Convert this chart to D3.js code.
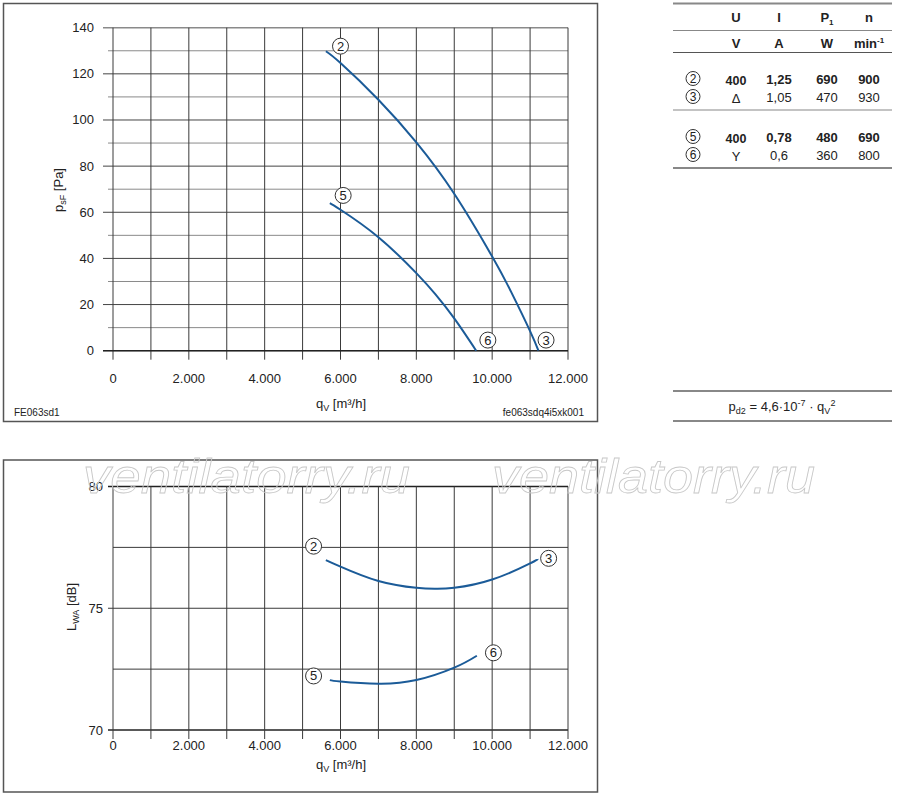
<!DOCTYPE html>
<html>
<head>
<meta charset="utf-8">
<script src="https://cdn.jsdelivr.net/npm/d3@7"></script>
<style>
  body { margin: 0; background: #fff; }
  svg { display: block; font-family: Arial, "Liberation Sans", sans-serif; }
</style>
</head>
<body>
<svg id="chart" width="900" height="797"></svg>
<script>
// Pressure curves (q_V in m³/h, p_sF in Pa)
const pressure23 = [[5614, 129.8], [6000, 124.7], [7000, 108.8], [8000, 90.3], [9000, 68.0], [10000, 40.8], [10500, 25.5], [11000, 8.5], [11220, 0]];
const pressure56 = [[5719, 64.0], [6000, 61.1], [7000, 49.2], [8000, 33.6], [8500, 24.5], [9000, 14.0], [9579, 0]];
const pressureLabels = [["2", 6000, 132], ["5", 6070, 67.3], ["6", 9886, 4.6], ["3", 11421, 4.6]];

// Sound power curves (L_WA in dB)
const sound23 = [[5614, 76.98], [6000, 76.71], [7000, 76.12], [8000, 75.84], [8500, 75.8], [9000, 75.84], [10000, 76.18], [11000, 76.84], [11200, 77.02]];
const sound56 = [[5719, 72.05], [6000, 71.99], [7000, 71.9], [8000, 72.05], [9000, 72.56], [9596, 73.05]];
const soundLabels = [["2", 5290, 77.55], ["3", 11489, 77.05], ["5", 5290, 72.22], ["6", 10034, 73.17]];

// Table
const tableHeads = ["U", "I", "P", "n"];
const tableUnits = ["V", "A", "W", "min"];
const tableRows = [
  { id: "2", vals: ["400", "1,25", "690", "900"], bold: true },
  { id: "3", vals: ["\u0394", "1,05", "470", "930"], bold: false },
  { id: "5", vals: ["400", "0,78", "480", "690"], bold: true },
  { id: "6", vals: ["Y", "0,6", "360", "800"], bold: false }
];

const xTicks = d3.range(0, 12001, 2000);
const xGrid = d3.range(0, 12001, 1000);
const pTicks = d3.range(0, 141, 20);
const pGrid = d3.range(0, 141, 10);
const lTicks = [70, 75, 80];
const lGrid = [70, 72.5, 75, 77.5, 80];

const blue = "#1b5b98";
const grid = "#3a3a3a";
const svg = d3.select("#chart");

const de = d3.formatLocale({ decimal: ",", thousands: ".", grouping: [3], currency: ["", ""] });
const fmt = de.format(",");

// frames
svg.append("rect").attr("x", 3.5).attr("y", 3.5).attr("width", 594).attr("height", 418)
  .attr("fill", "none").attr("stroke", "#555").attr("stroke-width", 1.5);
svg.append("rect").attr("x", 3.5).attr("y", 460).attr("width", 594).attr("height", 332)
  .attr("fill", "none").attr("stroke", "#555").attr("stroke-width", 1.5);

const xScale = d3.scaleLinear([0, 12000], [113, 568]);
const pScale = d3.scaleLinear([0, 140], [350.7, 27.7]);
const lScale = d3.scaleLinear([70, 80], [730, 486.5]);

const line = (y) => d3.line().curve(d3.curveNatural).x((d) => xScale(d[0])).y((d) => y(d[1]));

function circled(g, labels, y) {
  const c = g.selectAll(".lab").data(labels).join("g")
    .attr("transform", (d) => `translate(${xScale(d[1])},${y(d[2])})`);
  c.append("circle").attr("r", 8).attr("fill", "#fff").attr("stroke", "#333").attr("stroke-width", 1);
  c.append("text").attr("text-anchor", "middle").attr("y", 4.5).attr("font-size", 13).attr("fill", "#222").text((d) => d[0]);
}

// ---------- top chart ----------
const topG = svg.append("g");
topG.selectAll(".hg").data(pGrid).join("line")
  .attr("x1", (d) => (d % 20 === 0 ? 103 : 108)).attr("x2", 568)
  .attr("y1", (d) => pScale(d)).attr("y2", (d) => pScale(d))
  .attr("stroke", (d) => (d % 20 === 0 && d !== 140 ? "#444" : "#8a8a8a"))
  .attr("stroke-width", (d) => (d === 140 ? 1.6 : 1));
topG.selectAll(".vg").data(xGrid).join("line")
  .attr("x1", (d) => xScale(d)).attr("x2", (d) => xScale(d))
  .attr("y1", pScale(140)).attr("y2", pScale(0) + 9)
  .attr("stroke", grid).attr("stroke-width", 1);
topG.append("line").attr("x1", 103).attr("x2", 568).attr("y1", pScale(0)).attr("y2", pScale(0))
  .attr("stroke", "#222").attr("stroke-width", 1.4);

topG.selectAll(".yl").data(pTicks).join("text")
  .attr("x", 94).attr("y", (d) => pScale(d) + 4.5).attr("text-anchor", "end")
  .attr("font-size", 13).attr("fill", "#222").text((d) => d);
topG.selectAll(".xl").data(xTicks).join("text")
  .attr("x", (d) => xScale(d)).attr("y", 383).attr("text-anchor", "middle")
  .attr("font-size", 13).attr("fill", "#222").text((d) => fmt(d));

topG.selectAll(".curve").data([pressure23, pressure56]).join("path")
  .attr("fill", "none").attr("stroke", blue).attr("stroke-width", 2).attr("d", line(pScale));
circled(topG, pressureLabels, pScale);

const pt = topG.append("text").attr("transform", "translate(63,190) rotate(-90)")
  .attr("text-anchor", "middle").attr("font-size", 13).attr("fill", "#222");
pt.append("tspan").text("p");
pt.append("tspan").attr("font-size", 9).attr("dy", 3).text("sF");
pt.append("tspan").attr("dy", -3).text(" [Pa]");

const qt = topG.append("text").attr("x", 341).attr("y", 408).attr("text-anchor", "middle")
  .attr("font-size", 13).attr("fill", "#222");
qt.append("tspan").text("q");
qt.append("tspan").attr("font-size", 9).attr("dy", 3).text("V");
qt.append("tspan").attr("dy", -3).text(" [m³/h]");

topG.append("text").attr("x", 14).attr("y", 416).attr("font-size", 10).attr("fill", "#222").text("FE063sd1");
topG.append("text").attr("x", 584).attr("y", 416).attr("text-anchor", "end").attr("font-size", 10).attr("fill", "#222").text("fe063sdq4i5xk001");

// ---------- bottom chart ----------
const botG = svg.append("g");
botG.selectAll(".hg").data(lGrid).join("line")
  .attr("x1", (d) => (d % 5 === 0 ? 108 : 113)).attr("x2", 568)
  .attr("y1", (d) => lScale(d)).attr("y2", (d) => lScale(d))
  .attr("stroke", (d) => (d === 80 || d === 70 ? "#222" : grid))
  .attr("stroke-width", (d) => (d === 80 || d === 70 ? 1.5 : 1));
botG.selectAll(".vg").data(xGrid).join("line")
  .attr("x1", (d) => xScale(d)).attr("x2", (d) => xScale(d))
  .attr("y1", lScale(80)).attr("y2", lScale(70) + 9)
  .attr("stroke", grid).attr("stroke-width", 1);

botG.selectAll(".yl").data(lTicks).join("text")
  .attr("x", 103).attr("y", (d) => lScale(d) + 4.5).attr("text-anchor", "end")
  .attr("font-size", 13).attr("fill", "#222").text((d) => d);
botG.selectAll(".xl").data(xTicks).join("text")
  .attr("x", (d) => xScale(d)).attr("y", 750).attr("text-anchor", "middle")
  .attr("font-size", 13).attr("fill", "#222").text((d) => fmt(d));

botG.selectAll(".curve").data([sound23, sound56]).join("path")
  .attr("fill", "none").attr("stroke", blue).attr("stroke-width", 2).attr("d", line(lScale));
circled(botG, soundLabels, lScale);

const lt = botG.append("text").attr("transform", "translate(76,607) rotate(-90)")
  .attr("text-anchor", "middle").attr("font-size", 13).attr("fill", "#222");
lt.append("tspan").text("L");
lt.append("tspan").attr("font-size", 9).attr("dy", 3).text("WA");
lt.append("tspan").attr("dy", -3).text(" [dB]");

const qb = botG.append("text").attr("x", 341).attr("y", 769).attr("text-anchor", "middle")
  .attr("font-size", 13).attr("fill", "#222");
qb.append("tspan").text("q");
qb.append("tspan").attr("font-size", 9).attr("dy", 3).text("V");
qb.append("tspan").attr("dy", -3).text(" [m³/h]");

// ---------- table ----------
const tb = svg.append("g");
const colX = [736, 779, 827, 869];
[[3.5, 2], [30.5, 1], [52.5, 1], [110, 1.2], [168, 2]].forEach(([y, w]) => {
  tb.append("line").attr("x1", 673).attr("x2", 892).attr("y1", y).attr("y2", y)
    .attr("stroke", y === 52.5 ? "#555" : "#888").attr("stroke-width", w);
});
tableHeads.forEach((h, i) => {
  const t = tb.append("text").attr("x", colX[i]).attr("y", 22).attr("text-anchor", "middle")
    .attr("font-size", 13).attr("font-weight", "bold").attr("fill", "#222");
  t.append("tspan").text(h);
  if (h === "P") t.append("tspan").attr("font-size", 8).attr("dy", 3).text("1");
});
tableUnits.forEach((h, i) => {
  const t = tb.append("text").attr("x", colX[i]).attr("y", 47.5).attr("text-anchor", "middle")
    .attr("font-size", 13).attr("font-weight", "bold").attr("fill", "#222");
  t.append("tspan").text(h);
  if (h === "min") t.append("tspan").attr("font-size", 8).attr("dy", -5).text("-1");
});
const rowY = [83.5, 101.5, 141.5, 159.5];
tableRows.forEach((r, j) => {
  const y = rowY[j];
  tb.append("circle").attr("cx", 693).attr("cy", y - 5).attr("r", 7)
    .attr("fill", "#fff").attr("stroke", "#333").attr("stroke-width", 1);
  tb.append("text").attr("x", 693).attr("y", y - 0.5).attr("text-anchor", "middle")
    .attr("font-size", 12).attr("fill", "#222").text(r.id);
  r.vals.forEach((v, i) => {
    tb.append("text").attr("x", colX[i]).attr("y", y + (i === 0 ? 1.5 : 0)).attr("text-anchor", "middle")
      .attr("font-size", i === 0 && r.bold ? 12.5 : 13).attr("font-weight", r.bold ? "bold" : "normal")
      .attr("fill", "#222").text(v);
  });
});

// pd2 formula
[391, 421].forEach((y) => {
  tb.append("line").attr("x1", 673).attr("x2", 892).attr("y1", y).attr("y2", y)
    .attr("stroke", "#888").attr("stroke-width", 2);
});
const ft = tb.append("text").attr("x", 782).attr("y", 411).attr("text-anchor", "middle")
  .attr("font-size", 13).attr("fill", "#222");
ft.append("tspan").text("p");
ft.append("tspan").attr("font-size", 9).attr("dy", 3).text("d2");
ft.append("tspan").attr("dy", -3).text(" = 4,6\u00b710");
ft.append("tspan").attr("font-size", 9).attr("dy", -5).text("-7");
ft.append("tspan").attr("dy", 5).text(" \u00b7 q");
ft.append("tspan").attr("font-size", 9).attr("dy", 3).text("V");
ft.append("tspan").attr("font-size", 9).attr("dy", -8).text("2");

// watermark (outlined, see-through)
[[83, 327], [492, 323]].forEach(([x, w]) => {
  svg.append("text").attr("x", x).attr("y", 493).attr("font-size", 48).attr("font-style", "italic")
    .attr("textLength", w).attr("lengthAdjust", "spacingAndGlyphs")
    .attr("fill", "none").attr("stroke", "#c8c8c8").attr("stroke-width", 0.8)
    .text("ventilatorry.ru");
});
</script>
</body>
</html>
